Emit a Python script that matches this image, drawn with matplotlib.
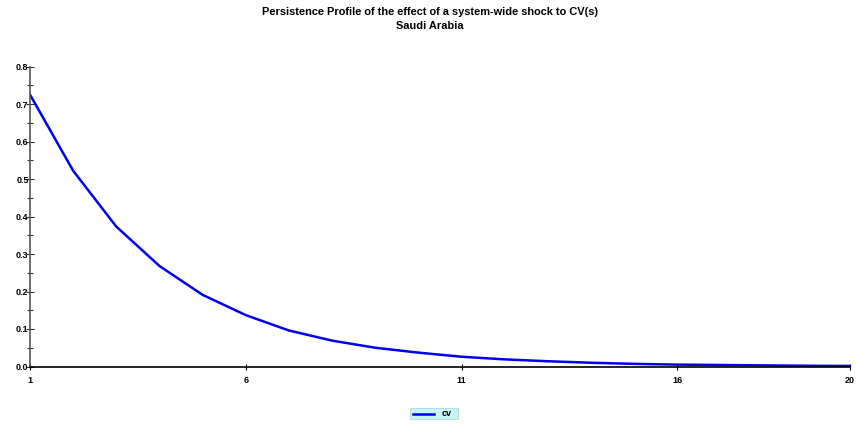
import matplotlib
matplotlib.use("Agg")
import matplotlib.pyplot as plt
from matplotlib.patches import Rectangle
from matplotlib.lines import Line2D
from matplotlib.ticker import MultipleLocator

horizon = list(range(1, 21))
cv_values = [0.725, 0.522, 0.373, 0.268, 0.191, 0.137, 0.096, 0.069, 0.050, 0.037,
             0.026, 0.019, 0.014, 0.010, 0.007, 0.005, 0.004, 0.003, 0.002, 0.0015]
x_ticks = [1, 6, 11, 16, 20]
y_ticks = [0.0, 0.1, 0.2, 0.3, 0.4, 0.5, 0.6, 0.7, 0.8]
title_text = "Persistence Profile of the effect of a system-wide shock to CV(s)\nSaudi Arabia"
legend_label = "cv"

plt.rcParams['font.family'] = ['Liberation Sans', 'DejaVu Sans']

W, H = 856, 424
fig = plt.figure(figsize=(W / 100, H / 100), dpi=100)
ax = fig.add_axes([30 / W, 1 - 366.5 / H, 820 / W, 300 / H])

ax.plot(horizon, cv_values, color='#0000ee', lw=1.8, solid_joinstyle='round')
ax.set_xlim(1, 20)
ax.set_ylim(0, 0.8)
ax.set_xticks(x_ticks)
ax.set_yticks(y_ticks)
ax.set_yticklabels([f"{v:.1f}" for v in y_ticks])
ax.yaxis.set_minor_locator(MultipleLocator(0.05))
ax.spines['top'].set_visible(False)
ax.spines['right'].set_visible(False)
ax.spines['left'].set_color('#555555')
ax.spines['left'].set_linewidth(1.2)
ax.spines['bottom'].set_color('black')
ax.spines['bottom'].set_linewidth(1.2)
ax.tick_params(axis='y', which='major', direction='inout', length=6, width=0.8,
               labelsize=6.5, pad=-2, colors='#333333', labelcolor='black')
ax.tick_params(axis='y', which='minor', direction='inout', length=5, width=0.8, colors='#333333')
ax.tick_params(axis='x', which='major', direction='inout', length=5, width=0.8,
               labelsize=6.5, pad=4)
for lab in ax.get_xticklabels() + ax.get_yticklabels():
    lab.set_fontweight('bold')

fig.text(430 / W, 1 - 7 / H, title_text, ha='center', va='top', fontsize=7.9,
         fontweight='bold', linespacing=1.5)

# legend box
fig.patches.append(Rectangle((410 / W, 1 - 419 / H), 48 / W, 11 / H,
                             transform=fig.transFigure, facecolor='#c8f4f4',
                             edgecolor='#a8dede', lw=0.6))
fig.lines.append(Line2D([413 / W, 434 / W], [1 - 413.5 / H, 1 - 413.5 / H],
                        transform=fig.transFigure, color='#0000ee', lw=1.8))
fig.text(442 / W, 1 - 413.5 / H, legend_label, ha='left', va='center',
         fontsize=6.5, fontweight='bold')

fig.savefig("out.png", dpi=100)
